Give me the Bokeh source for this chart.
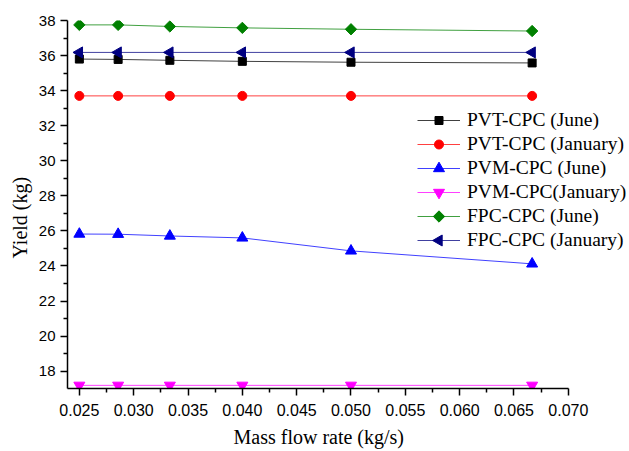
import math
from bokeh.plotting import figure
from bokeh.models import (FixedTicker, PrintfTickFormatter, Legend, LegendItem,
                          Range1d, Title)
from bokeh.embed import file_html
from bokeh.resources import INLINE

# Mass flow rate (kg/s)
flow_rate = [0.025, 0.02857, 0.03333, 0.04, 0.05, 0.06667]

# Yield (kg) per configuration and month
pvt_june = [35.80, 35.78, 35.73, 35.67, 35.62, 35.58]
pvt_january = [33.70, 33.70, 33.70, 33.70, 33.70, 33.70]
pvm_june = [25.82, 25.81, 25.71, 25.60, 24.86, 24.12]
pvm_january = [17.19, 17.19, 17.19, 17.19, 17.19, 17.19]
fpc_june = [37.75, 37.75, 37.66, 37.58, 37.50, 37.40]
fpc_january = [36.18, 36.18, 36.18, 36.18, 36.18, 36.18]

series_labels = ["PVT-CPC (June)", "PVT-CPC (January)", "PVM-CPC (June)",
                 "PVM-CPC(January)", "FPC-CPC (June)", "FPC-CPC (January)"]

x_ticks = [0.025, 0.030, 0.035, 0.040, 0.045, 0.050, 0.055, 0.060, 0.065, 0.070]
y_ticks = [18, 20, 22, 24, 26, 28, 30, 32, 34, 36, 38]

x_start, x_axis_end = 0.02391, 0.070
# the plotting frame runs on past the axis end so the legend has room at the right
x_frame_end = 0.07563

FRAME_W, FRAME_H = 562, 368

p = figure(frame_width=FRAME_W, frame_height=FRAME_H, output_backend="svg",
           toolbar_location=None,
           x_range=Range1d(x_start, x_frame_end), y_range=Range1d(17.01, 38.0),
           min_border_left=67, min_border_right=0, min_border_top=20,
           min_border_bottom=63)
p.outline_line_color = None
p.xgrid.visible = False
p.ygrid.visible = False
p.background_fill_color = "white"
p.border_fill_color = "white"

# pixel ranges over the frame, used for the legend key markers
p.extra_x_ranges = {"px_x": Range1d(0, FRAME_W)}
p.extra_y_ranges = {"px_y": Range1d(0, FRAME_H)}

styles = [
    (pvt_june, "black", "square", 8, 0.0),
    (pvt_january, "red", "circle", 9, 0.0),
    (pvm_june, "#0000ff", "triangle", 11, 0.0),
    (pvm_january, "#ff00ff", "inverted_triangle", 11, 0.0),
    (fpc_june, "#008000", "square", 8, math.pi / 4),
    (fpc_january, "#000080", "triangle", 11, math.pi / 2),
]

# legend layout (frame pixels)
LEG_X, LEG_Y = 350, 136
ROW_H = 24
GLYPH_W = 43
n_rows = len(series_labels)
leg_top = LEG_Y + n_rows * ROW_H

items = []
for i, ((ys, color, marker, size, ang), label) in enumerate(zip(styles, series_labels)):
    ln = p.line(flow_rate, ys, line_color=color, line_width=1, line_alpha=0.75)
    p.scatter(flow_rate, ys, marker=marker, size=size, angle=ang,
              fill_color=color, line_color=color)
    items.append(LegendItem(label=label, renderers=[ln]))
    # key marker centred on the legend line of this row (keeps the rotation)
    p.scatter([LEG_X + GLYPH_W / 2], [leg_top - (i + 0.5) * ROW_H],
              marker=marker, size=size, angle=ang, fill_color=color,
              line_color=color, x_range_name="px_x", y_range_name="px_y")

legend = Legend(items=items, location=(LEG_X, LEG_Y), padding=0, margin=0,
                spacing=0, glyph_width=GLYPH_W, glyph_height=ROW_H,
                label_height=ROW_H, label_standoff=7, border_line_color=None,
                background_fill_alpha=0.0,
                label_text_font="Liberation Serif", label_text_font_size="19.5px",
                label_text_color="black")
p.add_layout(legend, "center")

for ax in (p.xaxis[0], p.yaxis[0]):
    ax.axis_line_color = "black"
    ax.axis_line_width = 1.5
    ax.major_tick_line_color = "black"
    ax.major_tick_line_width = 1.5
    ax.minor_tick_line_color = "black"
    ax.minor_tick_line_width = 1.5
    ax.major_tick_in = 0
    ax.major_tick_out = 7
    ax.minor_tick_in = 0
    ax.minor_tick_out = 4
    ax.major_label_text_font = "Liberation Sans"
    ax.major_label_text_color = "black"

x_minor = [t + 0.0025 for t in x_ticks[:-1]]
p.xaxis[0].ticker = FixedTicker(ticks=x_ticks, minor_ticks=x_minor)
p.xaxis[0].bounds = (x_start, x_axis_end)
p.xaxis[0].formatter = PrintfTickFormatter(format="%.3f")
p.xaxis[0].major_label_text_font_size = "16px"
p.xaxis[0].major_label_standoff = 8

# x-axis title, placed under the drawn part of the axis
x_title = Title(text="Mass flow rate (kg/s)", align="left", offset=166,
                text_font="Liberation Serif", text_font_style="normal",
                text_font_size="20px", text_color="black", standoff=10)
p.add_layout(x_title, "below")

y_minor = [t + 1 for t in y_ticks[:-1]]
p.yaxis[0].ticker = FixedTicker(ticks=y_ticks, minor_ticks=y_minor)
p.yaxis[0].major_label_text_font_size = "15px"
p.yaxis[0].major_label_standoff = 5

# y-axis title
y_title = Title(text="Yield (kg)", align="left", offset=130,
                text_font="Liberation Serif", text_font_style="normal",
                text_font_size="20px", text_color="black", standoff=10)
p.add_layout(y_title, "left")

open("out.html", "w").write(file_html(p, INLINE))
